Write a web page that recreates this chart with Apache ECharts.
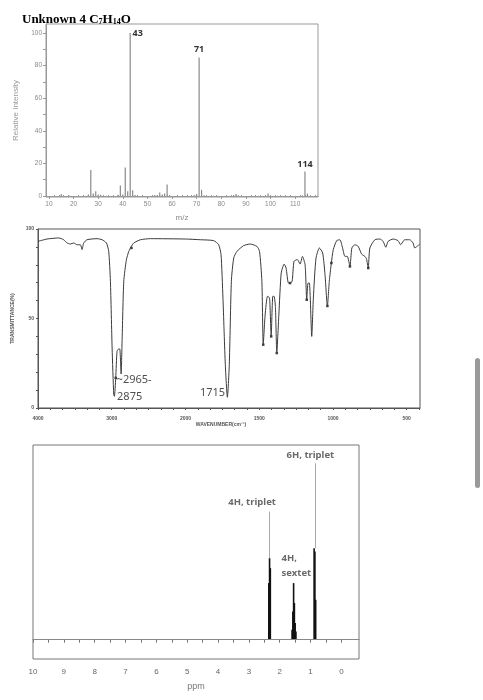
<!DOCTYPE html>
<html>
<head>
<meta charset="utf-8">
<script src="https://cdn.jsdelivr.net/npm/echarts@6/dist/echarts.min.js"></script>
<style>
  html, body { margin: 0; background: #fff; }
  #chart { width: 483px; height: 700px; }
</style>
</head>
<body>
<div id="chart"></div>
<script>
// Mass spectrum (m/z vs relative intensity)
const msMz = [15, 18, 26, 27, 28, 29, 30, 31, 38, 39, 40, 41, 42, 43, 44, 45, 53, 54, 55, 56, 57, 58, 59, 69, 70, 71, 72, 73, 85, 86, 87, 99, 100, 113, 114, 115]
const msIntensity = [1.2, 0.6, 1.0, 16, 1.5, 3.0, 1.0, 0.8, 0.7, 6.5, 1.0, 17.5, 3.0, 100, 3.5, 0.6, 0.7, 0.5, 2.2, 1.0, 1.5, 7.0, 0.6, 0.6, 1.2, 85, 3.8, 0.5, 0.6, 1.2, 0.4, 1.6, 0.5, 0.4, 15, 1.5]
const msTagged = [43, 71, 114]
const msMzTicks = [10, 20, 30, 40, 50, 60, 70, 80, 90, 100, 110]
const msIntTicks = [0, 20, 40, 60, 80, 100]

// IR spectrum (wavenumber vs %T)
const irWave = [4000, 3878, 3719, 3652, 3606, 3561, 3516, 3471, 3425, 3403, 3380, 3335, 3199, 3131, 3072, 3041, 3018, 2995, 2973, 2964, 2946, 2928, 2905, 2891, 2873, 2860, 2837, 2801, 2769, 2738, 2701, 2611, 2475, 2000,
  1899, 1809, 1775, 1759, 1746, 1730, 1716, 1703, 1689, 1673, 1651, 1606, 1561, 1516, 1498, 1482, 1473, 1460, 1444, 1430, 1419, 1408, 1399, 1390, 1381, 1367, 1351, 1331, 1318, 1302, 1291, 1277, 1264, 1241, 1223, 1207, 1189, 1178, 1169, 1160, 1144, 1133, 1115, 1092, 1070, 1054, 1038, 1025, 1011, 998, 975, 953, 935, 919, 903, 885, 872, 851, 829, 806, 784, 773, 761, 750, 716, 682, 660, 642, 626, 592, 559, 541, 514, 480, 457, 446, 430, 412]
const irTrans = [93.1, 94.4, 95.0, 94.0, 92.2, 91.6, 92.2, 91.2, 91.2, 88.5, 92.2, 94.0, 94.6, 94.0, 92.2, 87.5, 70.8, 33.5, 7.4, 6.5, 16.8, 31.7, 33.0, 33.0, 19.0, 37.0, 70.8, 82.9, 87.5, 90.0, 92.2, 94.0, 94.6, 94.4,
  94.0, 93.5, 91.2, 85.7, 61.5, 24.2, 6.0, 24.2, 70.8, 83.8, 87.5, 90.7, 91.6, 90.3, 87.5, 70.8, 35.4, 52.0, 62.4, 61.5, 40.0, 62.4, 62.4, 56.0, 30.7, 52.0, 75.4, 80.4, 78.2, 69.8, 69.8, 70.8, 82.0, 82.9, 80.4, 84.7, 80.0, 60.5, 69.8, 69.8, 40.0, 61.5, 83.8, 89.4, 86.6, 74.5, 56.8, 70.8, 81.0, 88.5, 93.5, 94.0, 89.4, 84.7, 84.7, 79.1, 89.4, 91.2, 90.3, 86.0, 84.7, 83.4, 78.2, 89.4, 94.0, 94.4, 93.1, 89.8, 93.1, 94.4, 93.5, 91.2, 94.0, 94.0, 92.2, 89.4, 90.3, 91.6]
const irPeakWave = [2946, 2733, 1473, 1419, 1381, 1291, 1178, 1038, 1011, 885, 761]
const irPeakTrans = [16.8, 89.4, 35.4, 40.0, 30.7, 69.8, 60.5, 57.0, 81.0, 79.1, 78.2]
const irNoteText = ['~2965-', '2875', '1715']
const irNoteWave = [2934, 2928, 1902]
const irNoteTrans = [15.8, 6.5, 8.7]
const irWaveTicks = [4000, 3000, 2000, 1500, 1000, 500]
const irTransTicks = [0, 50, 100]

// 1H NMR (ppm vs intensity)
const nmrPpm = [2.355, 2.33, 2.305, 1.60, 1.575, 1.55, 1.525, 1.50, 1.475, 0.885, 0.86, 0.835]
const nmrHeight = [170, 245, 215, 30, 85, 170, 110, 50, 25, 275, 265, 120]
const nmrLeaderPpm = [2.33, 0.86]
const nmrLeaderTop = [385, 530]
const nmrNoteText = ['4H, triplet', '4H,\nsextet', '6H, triplet']
const nmrNotePpm = [3.67, 1.94, 1.78]
const nmrNoteHeight = [412, 222, 555]
const nmrPpmTicks = [0, 1, 2, 3, 4, 5, 6, 7, 8, 9, 10]

// IR axis is split: 4000-2000 at half the scale of 2000-400
const irPos = w => (w >= 2000 ? (4000 - w) / 2 : 1000 + (2000 - w))
const irWaveAt = p => (p <= 1000 ? 4000 - 2 * p : 2000 - (p - 1000))
const irMax = irPos(410)

const range = (a, b, step) => {
  const out = []
  for (let v = a; v <= b + 1e-9; v += step) out.push(+v.toFixed(4))
  return out
}

const sans = 'Liberation Sans'
const note = 'Noto Sans'

const chart = echarts.init(document.getElementById('chart'))

const option = {
  animation: false,
  title: {
    text: '{b|Unknown 4 }{r|C}{s|7}{r|H}{s|14}{r|O}',
    left: 22,
    top: 10,
    padding: 0,
    textStyle: {
      rich: {
        b: { fontFamily: 'Liberation Serif', fontWeight: 'bold', fontSize: 13, lineHeight: 16, verticalAlign: 'bottom', color: '#000' },
        r: { fontFamily: 'Liberation Serif', fontSize: 13, lineHeight: 16, verticalAlign: 'bottom', color: '#000' },
        s: { fontFamily: 'Liberation Serif', fontSize: 8, lineHeight: 8, verticalAlign: 'bottom', color: '#000' }
      }
    }
  },
  graphic: [
    // page scrollbar seen in the screenshot
    { type: 'rect', shape: { x: 475, y: 358, width: 5, height: 130, r: 2.5 }, style: { fill: '#9a9a9a' } }
  ],
  grid: [
    { left: 46, top: 24, width: 272, height: 173, show: true, borderColor: '#999', borderWidth: 1 },
    { left: 38, top: 229, width: 382, height: 179, show: true, borderColor: '#555', borderWidth: 1 },
    { left: 33, top: 445, width: 326, height: 214, show: true, borderColor: '#777', borderWidth: 1 }
  ],
  xAxis: [
    {
      gridIndex: 0, type: 'value', min: 8.8, max: 119.3, position: 'bottom',
      name: 'm/z', nameLocation: 'middle', nameGap: 17,
      nameTextStyle: { fontFamily: sans, fontSize: 8, color: '#888' },
      axisLine: { lineStyle: { color: '#999' } },
      axisTick: { length: 3, customValues: msMzTicks, lineStyle: { color: '#999' } },
      axisLabel: { customValues: msMzTicks, fontFamily: sans, fontSize: 6.5, color: '#888', margin: 4 },
      splitLine: { show: false }
    },
    {
      // minor ticks along the mass axis
      gridIndex: 0, type: 'value', min: 8.8, max: 119.3, position: 'bottom',
      axisLine: { show: false },
      axisTick: { inside: true, length: 2, customValues: range(10, 118, 2).filter(v => v % 10 !== 0), lineStyle: { color: '#999' } },
      axisLabel: { show: false },
      splitLine: { show: false }
    },
    {
      gridIndex: 1, type: 'value', min: 0, max: irMax,
      name: 'WAVENUMBER(cm⁻¹)', nameLocation: 'middle', nameGap: 8,
      nameTextStyle: { fontFamily: sans, fontSize: 5, fontWeight: 'bold', color: '#555', padding: [0, 16, 0, 0] },
      axisLine: { lineStyle: { color: '#555' } },
      axisTick: { length: 2, customValues: range(0, irMax, 500 / 6), lineStyle: { color: '#555' } },
      axisLabel: {
        customValues: irWaveTicks.map(irPos),
        formatter: v => String(Math.round(irWaveAt(v))),
        fontFamily: sans, fontSize: 5, fontWeight: 'bold', color: '#555', margin: 8
      },
      splitLine: { show: false }
    },
    {
      gridIndex: 2, type: 'value', min: -0.57, max: 10, inverse: true,
      name: 'ppm', nameLocation: 'middle', nameGap: 23,
      nameTextStyle: { fontFamily: sans, fontSize: 9, color: '#777' },
      axisLine: { lineStyle: { color: '#777' } },
      axisTick: { length: 3, customValues: range(0, 10, 0.5), lineStyle: { color: '#777' } },
      axisLabel: { customValues: nmrPpmTicks, fontFamily: sans, fontSize: 8, color: '#666', margin: 9 },
      splitLine: { show: false }
    }
  ],
  yAxis: [
    {
      gridIndex: 0, type: 'value', min: -0.6, max: 105.5,
      name: 'Relative Intensity', nameLocation: 'middle', nameGap: 16,
      nameTextStyle: { fontFamily: sans, fontSize: 8, color: '#999' },
      axisLine: { show: true, lineStyle: { color: '#999' } },
      axisTick: { show: true, length: 3, customValues: range(0, 100, 10), lineStyle: { color: '#999' } },
      axisLabel: { customValues: msIntTicks, fontFamily: sans, fontSize: 6.5, color: '#888', margin: 4 },
      splitLine: { show: false }
    },
    {
      gridIndex: 1, type: 'value', min: 0, max: 100,
      name: 'TRANSMITTANCE(%)', nameLocation: 'middle', nameGap: 12,
      nameTextStyle: { fontFamily: sans, fontSize: 5, fontWeight: 'bold', color: '#555' },
      axisLine: { show: true, lineStyle: { color: '#555' } },
      axisTick: { show: true, length: 2, customValues: range(0, 100, 10), lineStyle: { color: '#555' } },
      axisLabel: { customValues: irTransTicks, fontFamily: sans, fontSize: 5, fontWeight: 'bold', color: '#555', margin: 4 },
      splitLine: { show: false }
    },
    {
      gridIndex: 2, type: 'value', min: -58, max: 585, show: false
    }
  ],
  series: [
    {
      type: 'bar',
      xAxisIndex: 0, yAxisIndex: 0,
      barWidth: 1.2,
      itemStyle: { color: '#8a8a8a' },
      data: msMz.map((mz, i) => {
        const item = { value: [mz, msIntensity[i]] }
        if (msTagged.includes(mz)) {
          item.label = {
            show: true,
            formatter: String(mz),
            fontFamily: note, fontSize: 9, fontWeight: 'bold', color: '#333',
            position: mz === msTagged[0] ? [3, -4] : 'top',
            distance: 3
          }
        }
        return item
      })
    },
    {
      type: 'line',
      xAxisIndex: 2, yAxisIndex: 1,
      showSymbol: false,
      smooth: 0.2,
      lineStyle: { color: '#3a3a3a', width: 1 },
      data: irWave.map((w, i) => [irPos(w), irTrans[i]])
    },
    {
      type: 'scatter',
      xAxisIndex: 2, yAxisIndex: 1,
      symbol: 'rect', symbolSize: 2.5,
      itemStyle: { color: '#111' },
      data: irPeakWave.map((w, i) => [irPos(w), irPeakTrans[i]])
    },
    {
      type: 'scatter',
      xAxisIndex: 2, yAxisIndex: 1,
      symbolSize: 0,
      label: {
        show: true, position: 'right', distance: 0,
        formatter: p => irNoteText[p.dataIndex],
        fontFamily: note, fontSize: 11, color: '#222'
      },
      data: irNoteWave.map((w, i) => [irPos(w), irNoteTrans[i]])
    },
    {
      type: 'bar',
      xAxisIndex: 3, yAxisIndex: 2,
      barWidth: 1.6,
      itemStyle: { color: '#111' },
      data: nmrPpm.map((p, i) => [p, nmrHeight[i]]),
      markLine: {
        silent: true,
        symbol: 'none',
        label: { show: false },
        data: [
          { yAxis: 0, lineStyle: { color: '#888', width: 1, type: 'solid' } },
          ...nmrLeaderPpm.map((p, i) => {
            const base = Math.max(...nmrPpm.map((q, j) => (Math.abs(q - p) < 0.06 ? nmrHeight[j] : 0)))
            return [
              { coord: [p, base], lineStyle: { color: '#aaa', width: 1, type: 'solid' } },
              { coord: [p, nmrLeaderTop[i]] }
            ]
          })
        ]
      }
    },
    {
      type: 'scatter',
      xAxisIndex: 3, yAxisIndex: 2,
      symbolSize: 0,
      label: {
        show: true, position: 'right', distance: 0,
        formatter: p => nmrNoteText[p.dataIndex],
        fontFamily: note, fontSize: 9.5, fontWeight: 'bold', color: '#444', lineHeight: 15
      },
      data: nmrNotePpm.map((p, i) => [p, nmrNoteHeight[i]])
    }
  ]
}

chart.setOption(option)
</script>
</body>
</html>
